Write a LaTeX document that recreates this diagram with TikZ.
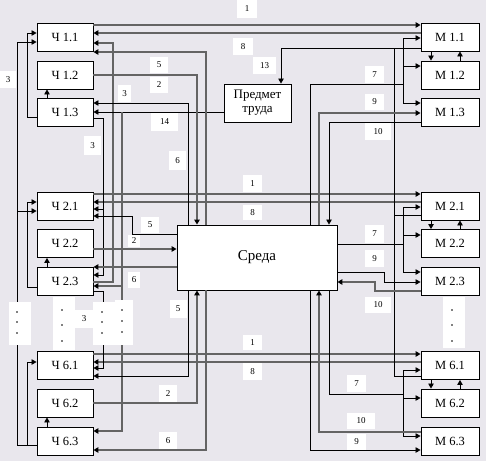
\documentclass[tikz,border=0pt]{standalone}
\usepackage{fontspec}
\setmainfont{Liberation Serif}
\usetikzlibrary{arrows.meta,positioning}
\definecolor{bgcol}{RGB}{233,231,237}
\definecolor{wirecol}{RGB}{100,100,100}

\begin{document}
\begin{tikzpicture}[x=1pt,y=-1pt,
    blk/.style={draw,fill=white,line width=0.9pt,minimum width=56pt,minimum height=28pt,inner sep=0pt,font=\fontsize{12.5}{13.5}\selectfont},
    mblk/.style={blk,minimum width=58pt},
    wire/.style={line width=0.8pt},
    gwire/.style={line width=1.3pt,draw=wirecol},
    toarr/.style={-{Triangle[length=5pt,width=5.5pt,black]}},
    lbl/.style={fill=white,inner sep=0pt,font=\fontsize{9}{9}\selectfont}]
    \useasboundingbox (0,0) rectangle (486,461);
    \fill[bgcol] (0,0) rectangle (486,461);

    % executors and machines
    \node[blk] (c11) at (65,37) {Ч 1.1};
    \node[blk] (c12) at (65,75) {Ч 1.2};
    \node[blk] (c13) at (65,112.5) {Ч 1.3};
    \node[blk] (c21) at (65,206) {Ч 2.1};
    \node[blk] (c22) at (65,243.5) {Ч 2.2};
    \node[blk] (c23) at (65,281) {Ч 2.3};
    \node[blk] (c61) at (65,365.5) {Ч 6.1};
    \node[blk] (c62) at (65,403) {Ч 6.2};
    \node[blk] (c63) at (65,441) {Ч 6.3};
    \node[mblk] (m11) at (450,37) {М 1.1};
    \node[mblk] (m12) at (450,75) {М 1.2};
    \node[mblk] (m13) at (450,112.5) {М 1.3};
    \node[mblk] (m21) at (450,206) {М 2.1};
    \node[mblk] (m22) at (450,243.5) {М 2.2};
    \node[mblk] (m23) at (450,281) {М 2.3};
    \node[mblk] (m61) at (450,365.5) {М 6.1};
    \node[mblk] (m62) at (450,403) {М 6.2};
    \node[mblk] (m63) at (450,441) {М 6.3};
    \node[blk,minimum width=67pt,minimum height=38pt,align=center,font=\fontsize{13}{14}\selectfont] (pt) at (257.5,103) {Предмет\\труда};
    \node[blk,minimum width=160pt,minimum height=65pt,font=\fontsize{15}{15}\selectfont] (sr) at (257,257.5) {Среда};

    % links 1 and 8
    \foreach \g/\ya/\yb in {1/25/33, 2/194/202, 6/354/362} {
        \draw[gwire,toarr] (c\g1.east|-0,\ya) -- (m\g1.west|-0,\ya);
        \draw[gwire,toarr] (m\g1.west|-0,\yb) -- (c\g1.east|-0,\yb);
    }
    % inside the groups
    \foreach \g/\yo/\yi in {1/117/33, 2/287/202, 6/445/362} {
        \draw[wire,toarr] (c\g3.north-|47,0) -- (c\g2.south-|47,0);
        \draw[wire,toarr] (m\g1.south-|431,0) -- (m\g2.north-|431,0);
        \draw[wire,toarr] (m\g2.north-|460,0) -- (m\g1.south-|460,0);
        \draw[wire,toarr] (c\g3.west|-0,\yo) -| (27,\yi) -- (c\g1.west|-0,\yi);
    }
    \draw[wire,toarr] (27,445) -| (17,42) -- (c11.west|-0,42);
    \draw[wire,toarr] (17,211) -- (c21.west|-0,211);

    % links 3 and 14
    \draw[wire,toarr] (c13.east|-0,118) -| (103,275) -- (c23.east|-0,275);
    \draw[wire,toarr] (103,209) -- (c21.east|-0,209);
    \draw[wire,toarr] (c23.east|-0,291) -| (103,368) -- (c61.east|-0,368);
    \draw[gwire,toarr] (c23.east|-0,282) -| (113,43) -- (c11.east|-0,43);
    \draw[wire,toarr] (pt.west|-0,112) -- (c13.east|-0,112);
    \draw[gwire,toarr] (122,112) -- (122,431) -- (c63.east|-0,431);
    \draw[gwire,toarr] (122,286) -- (c23.east|-0,286);

    % links 2, 5 and 6
    \draw[wire,toarr] (sr.north-|188,0) |- (c13.east|-0,103);
    \draw[wire,toarr] (sr.south-|188,0) |- (c61.east|-0,376);
    \draw[gwire,toarr] (c12.east|-0,75) -| (sr.north-|197,0);
    \draw[gwire,toarr] (c62.east|-0,403) -| (sr.south-|197,0);
    \draw[gwire,toarr] (sr.north-|206,0) |- (c11.east|-0,52);
    \draw[gwire,toarr] (sr.south-|206,0) |- (c63.east|-0,450);
    \draw[wire,toarr] (sr.west|-0,234) -| (132,216) -- (c21.east|-0,216);
    \draw[gwire,toarr] (c22.east|-0,249) -- (sr.west|-0,249);
    \draw[gwire,toarr] (sr.west|-0,267) -- (c23.east|-0,267);

    % link 13
    \draw[wire,toarr] (m11.west|-0,48) -| (pt.north-|281,0);
    \draw[wire] (m61.west|-0,376) -| (394,48);
    \draw[wire] (m21.west|-0,215) -- (394,215);

    % links 7, 9 and 10
    \foreach \g/\ya/\yb/\yc in {1/38/66/103, 2/207/235/272, 6/370/398/436} {
        \draw[wire] (403,\ya) -- (403,\yc);
        \draw[wire,toarr] (403,\ya) -- (m\g1.west|-0,\ya);
        \draw[wire,toarr] (403,\yb) -- (m\g2.west|-0,\yb);
        \draw[wire,toarr] (403,\yc) -- (m\g3.west|-0,\yc);
    }
    \draw[wire] (sr.north-|310,0) |- (403,84);
    \draw[gwire,toarr] (sr.north-|319,0) |- (m13.west|-0,113);
    \draw[wire,toarr] (m13.west|-0,122) -| (sr.north-|329,0);
    \draw[wire] (sr.east|-0,244) -- (403,244);
    \draw[wire,toarr] (sr.east|-0,272) -| (384,282) -- (m23.west|-0,282);
    \draw[gwire,toarr] (m23.west|-0,291) -| (375,282) -- (sr.east|-0,282);
    \draw[wire] (sr.south-|329,0) |- (403,394);
    \draw[gwire,toarr] (m63.west|-0,432) -| (sr.south-|319,0);
    \draw[wire,toarr] (sr.south-|310,0) |- (m63.west|-0,450);

    % gaps with dots
    \fill[white] (9,302) rectangle (31,345);
    \fill[white] (53,297) rectangle (75,350);
    \fill[white] (93,302) rectangle (115,345);
    \fill[white] (115,300) rectangle (133,345);
    \fill[white] (443,297) rectangle (465,348);
    \foreach \x/\y in {17/312,17/322,17/333,62/310,62/325,62/341,102/312,102/322,102/333,
                       122/310,122/321,122/332,452/310,452/325,452/341}
        \fill (\x,\y) circle (0.9pt);

    % link numbers
    \foreach \t/\x/\y/\w/\h [count=\i] in {1/247/9/20/18, 8/243/46.5/20/17, 5/159/65/18/16,
        2/159/85/18/16, 13/264.5/65.5/23/17, 7/374.5/74.5/19/17, 9/374.5/102/19/16,
        10/378/131.5/26/17, 3/8/79.5/16/17, 3/124.5/93.5/13/17, 14/164.5/122/27/18,
        3/92.5/145.5/17/19, 6/177.5/160.5/17/19, 1/252.5/183.5/19/17, 8/252.5/212.5/19/15,
        5/150/225/18/16, 2/134/241/12/12, 7/374.5/234/19/18, 9/374.5/258.5/19/17,
        6/134/280/12/16, 10/378/305/26/16, 5/178/309/17/18, 3/84/319/18/18,
        1/252.5/342.5/19/15, 8/252.5/371.5/19/17, 7/356.5/383.5/19/17, 10/361/421/28/16,
        9/356.5/442/19/16, 2/168/393.5/18/17, 6/168/440.5/18/17}
        \node[lbl,minimum width=\w pt,minimum height=\h pt] (num\i) at (\x,\y) {\t};
\end{tikzpicture}
\end{document}
